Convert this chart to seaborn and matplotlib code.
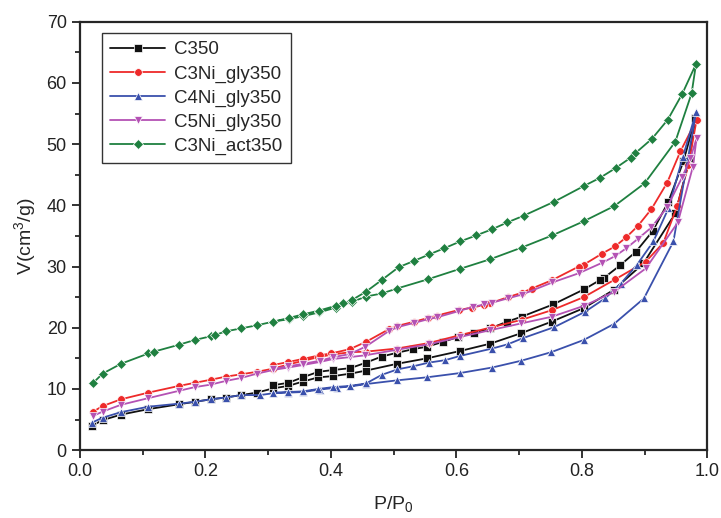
import pandas as pd
import seaborn as sns
import matplotlib.pyplot as plt
from matplotlib.ticker import MultipleLocator

# N2 isotherms: adsorption branch then desorption branch for each sample
c350_ads_p = [0.019, 0.036, 0.065, 0.109, 0.158, 0.183, 0.208, 0.232, 0.257, 0.282, 0.308, 0.332, 0.355, 0.38,
              0.404, 0.431, 0.456, 0.505, 0.553, 0.606, 0.654, 0.703, 0.752, 0.803, 0.851, 0.898, 0.949, 0.972, 0.981]
c350_ads_v = [4.0, 4.9, 5.8, 6.7, 7.5, 7.9, 8.3, 8.6, 9.0, 9.4, 10.1, 10.5, 11.2, 11.9,
              12.1, 12.5, 13.0, 14.1, 15.0, 16.2, 17.4, 19.1, 21.0, 23.2, 26.2, 30.5, 38.7, 47.7, 54.3]
c350_des_p = [0.962, 0.938, 0.913, 0.886, 0.861, 0.836, 0.829, 0.804, 0.754, 0.704, 0.681, 0.654, 0.628,
              0.603, 0.579, 0.553, 0.531, 0.505, 0.481, 0.456, 0.431, 0.404, 0.38, 0.355, 0.332, 0.307]
c350_des_v = [47.2, 40.6, 35.8, 32.4, 30.2, 28.2, 27.8, 26.3, 23.8, 21.8, 21.0, 19.9, 19.2,
              18.5, 17.7, 16.9, 16.5, 15.9, 15.3, 14.3, 13.4, 13.1, 12.8, 11.9, 11.0, 10.6]

c3ni_gly_ads_p = [0.021, 0.036, 0.065, 0.109, 0.158, 0.183, 0.208, 0.232, 0.257, 0.282, 0.307, 0.332, 0.356,
                  0.38, 0.401, 0.43, 0.456, 0.505, 0.556, 0.606, 0.657, 0.704, 0.753, 0.803, 0.853, 0.902,
                  0.93, 0.952, 0.97, 0.983]
c3ni_gly_ads_v = [6.3, 7.2, 8.3, 9.4, 10.5, 11.0, 11.5, 12.0, 12.4, 12.8, 13.3, 14.0, 14.6,
                  15.2, 15.6, 16.0, 16.1, 16.6, 17.5, 18.8, 20.1, 21.3, 22.9, 25.0, 27.9, 30.8,
                  33.9, 39.9, 46.6, 54.0]
c3ni_gly_des_p = [0.957, 0.936, 0.911, 0.889, 0.871, 0.853, 0.832, 0.803, 0.795, 0.753, 0.72, 0.704, 0.682,
                  0.654, 0.644, 0.625, 0.604, 0.569, 0.555, 0.533, 0.506, 0.493, 0.456, 0.43, 0.40, 0.382,
                  0.355, 0.332, 0.307]
c3ni_gly_des_v = [48.8, 43.7, 39.4, 36.6, 34.8, 33.3, 32.1, 30.3, 30.0, 27.8, 26.4, 25.7, 25.0,
                  24.0, 23.7, 23.3, 22.9, 22.0, 21.6, 21.0, 20.3, 19.8, 17.7, 16.5, 15.8, 15.5,
                  14.9, 14.4, 13.9]

c4ni_gly_ads_p = [0.019, 0.036, 0.065, 0.109, 0.158, 0.183, 0.208, 0.232, 0.257, 0.287, 0.308, 0.332, 0.356,
                  0.382, 0.409, 0.431, 0.456, 0.505, 0.553, 0.606, 0.657, 0.703, 0.751, 0.803, 0.851, 0.899,
                  0.946, 0.982]
c4ni_gly_ads_v = [4.5, 5.3, 6.2, 7.1, 7.6, 7.9, 8.3, 8.6, 9.0, 9.0, 9.3, 9.4, 9.5,
                  9.9, 10.2, 10.4, 10.8, 11.4, 11.9, 12.6, 13.5, 14.6, 16.0, 18.0, 20.6, 24.8,
                  34.1, 55.2]
c4ni_gly_des_p = [0.961, 0.938, 0.914, 0.888, 0.862, 0.837, 0.805, 0.756, 0.706, 0.682, 0.657, 0.606, 0.582,
                  0.556, 0.531, 0.506, 0.481, 0.456, 0.431, 0.404, 0.38, 0.355, 0.332, 0.308]
c4ni_gly_des_v = [47.9, 39.5, 34.1, 30.3, 27.2, 24.8, 22.6, 20.1, 18.3, 17.3, 16.6, 15.4, 14.7,
                  14.3, 13.7, 13.2, 12.3, 10.9, 10.5, 10.3, 10.0, 9.6, 9.5, 9.4]

c5ni_gly_ads_p = [0.021, 0.036, 0.065, 0.109, 0.158, 0.183, 0.208, 0.232, 0.257, 0.282, 0.308, 0.332, 0.355,
                  0.382, 0.404, 0.43, 0.455, 0.505, 0.556, 0.606, 0.654, 0.703, 0.752, 0.804, 0.852, 0.902,
                  0.953, 0.977, 0.983]
c5ni_gly_ads_v = [5.6, 6.3, 7.4, 8.5, 9.7, 10.3, 10.7, 11.3, 11.8, 12.5, 13.1, 13.5, 13.9,
                  14.4, 14.9, 15.2, 15.5, 16.4, 17.3, 18.5, 19.6, 20.7, 21.8, 23.6, 25.9, 29.7,
                  37.2, 46.3, 51.0]
c5ni_gly_des_p = [0.973, 0.96, 0.936, 0.911, 0.889, 0.871, 0.853, 0.832, 0.795, 0.753, 0.704, 0.682, 0.657,
                  0.644, 0.626, 0.603, 0.569, 0.555, 0.533, 0.506, 0.493, 0.455, 0.43, 0.404, 0.382, 0.355,
                  0.332, 0.308]
c5ni_gly_des_v = [47.7, 44.6, 39.7, 36.4, 34.5, 33.0, 31.7, 30.6, 28.9, 27.4, 25.4, 24.8, 24.1,
                  23.8, 23.4, 22.7, 21.7, 21.4, 20.8, 20.1, 19.5, 16.9, 15.7, 15.2, 14.6, 14.1,
                  13.7, 13.3]

c3ni_act_ads_p = [0.02, 0.036, 0.065, 0.109, 0.118, 0.157, 0.183, 0.208, 0.215, 0.232, 0.257, 0.282, 0.308,
                  0.333, 0.356, 0.381, 0.408, 0.433, 0.456, 0.481, 0.505, 0.554, 0.605, 0.654, 0.704, 0.753,
                  0.803, 0.852, 0.9, 0.949, 0.975, 0.982]
c3ni_act_ads_v = [10.9, 12.5, 14.1, 15.8, 16.1, 17.2, 18.0, 18.6, 18.8, 19.4, 19.9, 20.4, 21.0,
                  21.4, 21.9, 22.5, 23.3, 24.2, 25.1, 25.6, 26.4, 27.9, 29.6, 31.2, 33.1, 35.1,
                  37.4, 39.9, 43.6, 50.4, 58.3, 63.1]
c3ni_act_des_p = [0.96, 0.937, 0.912, 0.885, 0.878, 0.854, 0.829, 0.804, 0.756, 0.707, 0.681, 0.657, 0.632,
                  0.606, 0.581, 0.557, 0.532, 0.508, 0.481, 0.456, 0.433, 0.42, 0.408, 0.381, 0.356, 0.333,
                  0.308]
c3ni_act_des_v = [58.2, 54.0, 50.9, 48.5, 47.8, 46.1, 44.5, 43.2, 40.6, 38.3, 37.2, 36.1, 35.1,
                  34.1, 33.0, 32.0, 30.9, 29.9, 27.8, 25.9, 24.5, 24.0, 23.6, 22.8, 22.2, 21.6,
                  21.0]

sample_names = ['C350', 'C3Ni_gly350', 'C4Ni_gly350', 'C5Ni_gly350', 'C3Ni_act350']
sample_colors = ['#111111', '#ee2a2a', '#3a50ac', '#b452b4', '#1f8040']
sample_markers = ['s', 'o', '^', 'v', 'D']


def main():
    branches = [
        (c350_ads_p + c350_des_p, c350_ads_v + c350_des_v),
        (c3ni_gly_ads_p + c3ni_gly_des_p, c3ni_gly_ads_v + c3ni_gly_des_v),
        (c4ni_gly_ads_p + c4ni_gly_des_p, c4ni_gly_ads_v + c4ni_gly_des_v),
        (c5ni_gly_ads_p + c5ni_gly_des_p, c5ni_gly_ads_v + c5ni_gly_des_v),
        (c3ni_act_ads_p + c3ni_act_des_p, c3ni_act_ads_v + c3ni_act_des_v),
    ]
    frames = []
    for name, (p, v) in zip(sample_names, branches):
        frames.append(pd.DataFrame({'p': p, 'v': v, 'sample': name}))
    df = pd.concat(frames, ignore_index=True)

    sns.set_style('ticks')
    plt.rcParams['font.family'] = ['Liberation Sans', 'DejaVu Sans']
    plt.rcParams['mathtext.fontset'] = 'custom'
    plt.rcParams['mathtext.rm'] = 'Liberation Sans'
    plt.rcParams['mathtext.it'] = 'Liberation Sans'

    fig, ax = plt.subplots(figsize=(7.21, 5.18), dpi=100)
    fig.subplots_adjust(left=0.111, right=0.981, top=0.958, bottom=0.131)

    sns.lineplot(data=df, x='p', y='v', hue='sample', style='sample',
                 hue_order=sample_names, style_order=sample_names,
                 palette=dict(zip(sample_names, sample_colors)),
                 markers=dict(zip(sample_names, sample_markers)),
                 dashes=False, sort=False, estimator=None,
                 linewidth=1.3, markersize=5.5, markeredgewidth=0.5, ax=ax)

    ax.set_xlim(0, 1.0)
    ax.set_ylim(0, 70)
    ax.xaxis.set_major_locator(MultipleLocator(0.2))
    ax.xaxis.set_minor_locator(MultipleLocator(0.1))
    ax.yaxis.set_major_locator(MultipleLocator(10))
    ax.yaxis.set_minor_locator(MultipleLocator(5))
    ax.tick_params(which='major', direction='out', length=6, width=1.3, labelsize=13, colors='#222222')
    ax.tick_params(which='minor', direction='out', length=3.5, width=1.3)
    for s in ax.spines.values():
        s.set_linewidth(1.6)
        s.set_visible(True)

    ax.set_xlabel('P/P$_0$', fontsize=14, labelpad=10)
    ax.set_ylabel('V(cm$^3$/g)', fontsize=14, labelpad=6)

    leg = ax.legend(loc='upper left', bbox_to_anchor=(0.035, 0.974), borderaxespad=0,
                    fontsize=13.5, frameon=True, fancybox=False, edgecolor='black',
                    handlelength=2.9, borderpad=0.45, labelspacing=0.36, handletextpad=0.5)
    leg.get_frame().set_linewidth(1.0)

    plt.savefig('out.png', dpi=100)


if __name__ == '__main__':
    main()
